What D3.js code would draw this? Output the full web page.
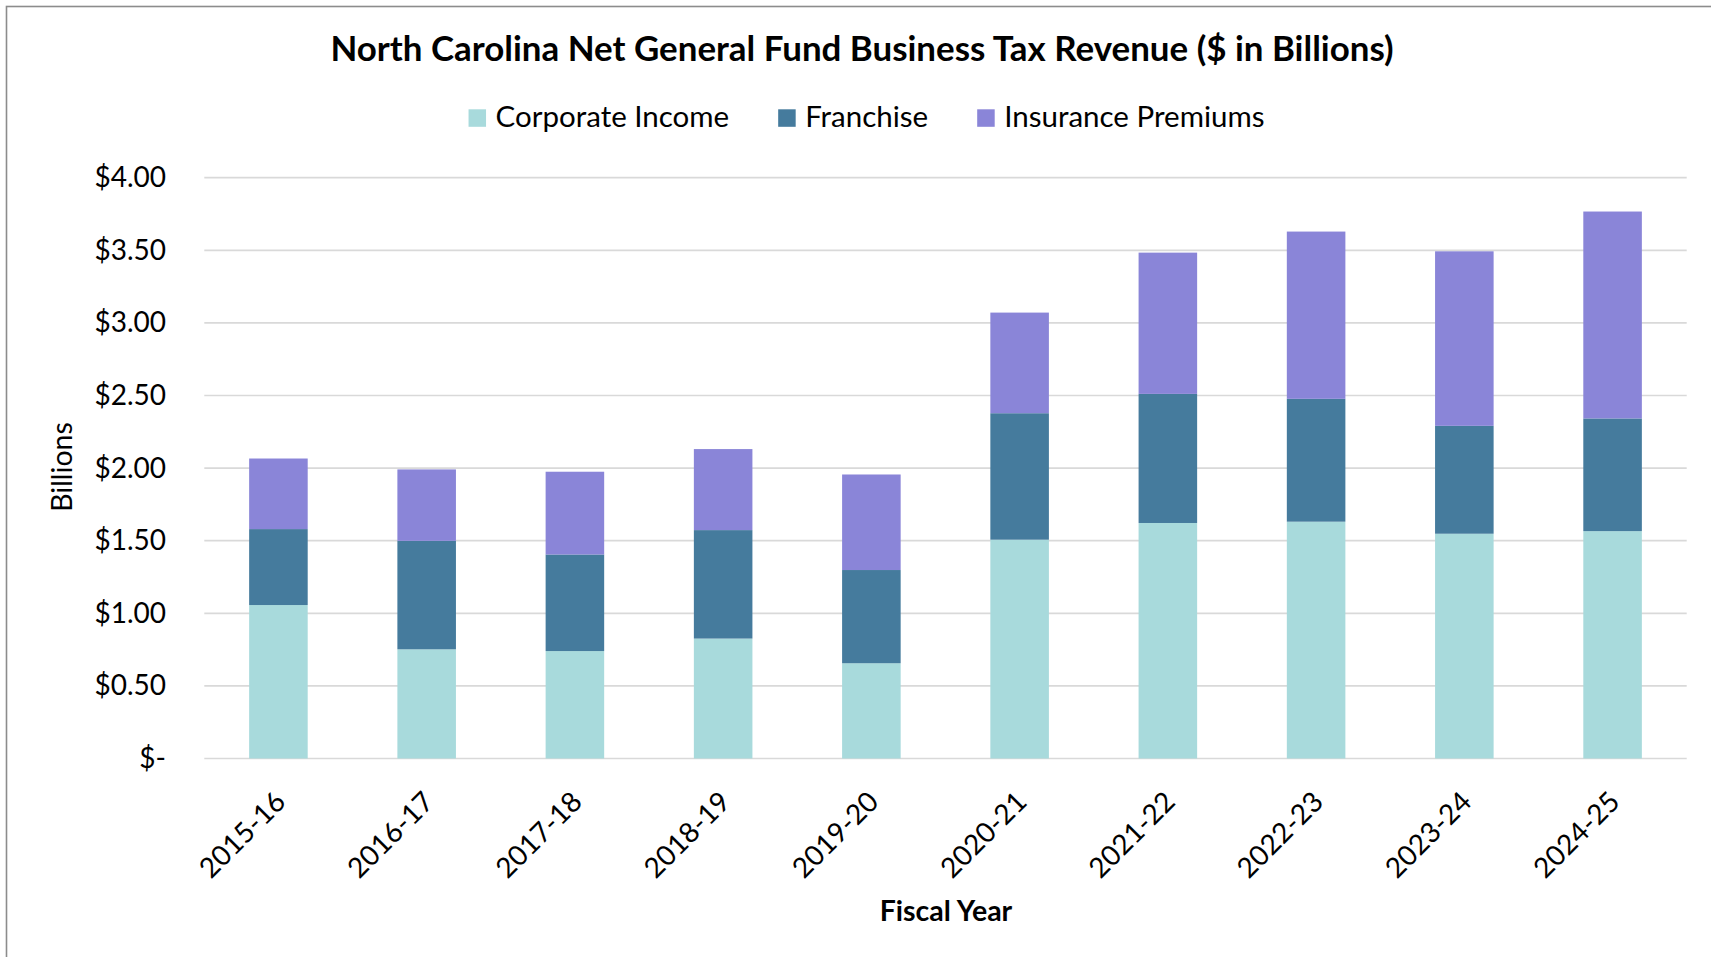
<!DOCTYPE html>
<html>
<head>
<meta charset="utf-8">
<script src="https://cdn.jsdelivr.net/npm/d3@7"></script>
<style>
  html, body { margin: 0; padding: 0; background: #fff; }
  svg { display: block; font-family: Lato, "Open Sans", sans-serif; }
</style>
</head>
<body>
<svg id="chart" width="1711" height="957"></svg>
<script>
// ---- Data (values in $ billions) ----
const categories = ["2015-16","2016-17","2017-18","2018-19","2019-20","2020-21","2021-22","2022-23","2023-24","2024-25"];
const seriesNames = ["Corporate Income","Franchise","Insurance Premiums"];
const corporateIncome   = [1.057, 0.752, 0.740, 0.826, 0.656, 1.507, 1.622, 1.631, 1.548, 1.566];
const franchise         = [0.523, 0.747, 0.665, 0.747, 0.642, 0.871, 0.889, 0.846, 0.743, 0.776];
const insurancePremiums = [0.486, 0.492, 0.570, 0.558, 0.658, 0.693, 0.973, 1.152, 1.202, 1.425];
const yTicks = [0, 0.5, 1, 1.5, 2, 2.5, 3, 3.5, 4];
const yTickLabels = ["$-","$0.50","$1.00","$1.50","$2.00","$2.50","$3.00","$3.50","$4.00"];
const colors = ["#A8DADC", "#457B9D", "#8A85D8"];
const titleText = "North Carolina Net General Fund Business Tax Revenue ($ in Billions)";
const xTitle = "Fiscal Year";
const yTitle = "Billions";

// ---- Layout ----
const W = 1711, H = 957;
const plot = { left: 204.3, right: 1686.7, top: 177.7, bottom: 758.5 };

const svg = d3.select("#chart");
svg.append("rect").attr("x", 0).attr("y", 0).attr("width", W).attr("height", H).attr("fill", "#fff");
// chart border (right/bottom cropped out of view)
svg.append("rect")
  .attr("x", 6.5).attr("y", 6.5).attr("width", W + 20).attr("height", H + 20)
  .attr("fill", "none").attr("stroke", "#8c8c8c").attr("stroke-width", 1.6);

const rows = categories.map((c, i) => ({
  year: c,
  "Corporate Income": corporateIncome[i],
  "Franchise": franchise[i],
  "Insurance Premiums": insurancePremiums[i]
}));
const stacked = d3.stack().keys(seriesNames)(rows);

const x = d3.scaleBand().domain(categories).range([plot.left, plot.right])
  .paddingInner(0.605).paddingOuter(0.3025);
const y = d3.scaleLinear().domain([0, 4]).range([plot.bottom, plot.top]);

// gridlines
svg.append("g").selectAll("line").data(yTicks).join("line")
  .attr("x1", plot.left).attr("x2", plot.right)
  .attr("y1", d => y(d)).attr("y2", d => y(d))
  .attr("stroke", "#d9d9d9").attr("stroke-width", 1.7);

// y axis labels
const yAxis = d3.axisLeft(y).tickValues(yTicks)
  .tickFormat((d, i) => yTickLabels[i]).tickSize(0).tickPadding(0);
const yg = svg.append("g").attr("transform", `translate(166,0)`).call(yAxis);
yg.select(".domain").remove();
yg.selectAll("text").attr("font-size", 28).attr("fill", "#000")
  .attr("font-family", "Lato, sans-serif");

// bars
svg.append("g").selectAll("g").data(stacked).join("g")
  .attr("fill", (d, i) => colors[i])
  .selectAll("rect").data(d => d).join("rect")
  .attr("x", d => x(d.data.year))
  .attr("width", x.bandwidth())
  .attr("y", d => y(d[1]))
  .attr("height", d => y(d[0]) - y(d[1]));

// x axis labels
const xAxis = d3.axisBottom(x).tickSize(0).tickPadding(0);
const xg = svg.append("g").attr("transform", `translate(0,${plot.bottom})`).call(xAxis);
xg.select(".domain").remove();
xg.selectAll("text")
  .attr("font-size", 28).attr("fill", "#000").attr("font-family", "Lato, sans-serif")
  .attr("text-anchor", "end")
  .attr("y", 0).attr("dy", "0.35em")
  .attr("transform", "translate(2,38) rotate(-45)");

// title
svg.append("text").attr("x", 862).attr("y", 60.5)
  .attr("text-anchor", "middle").attr("font-size", 34.9).attr("font-weight", 700)
  .attr("fill", "#000").text(titleText);

// axis titles
svg.append("text").attr("x", 946).attr("y", 921)
  .attr("text-anchor", "middle").attr("font-size", 28.5).attr("font-weight", 700)
  .attr("fill", "#000").text(xTitle);
svg.append("text").attr("transform", "translate(71.5,467) rotate(-90)")
  .attr("text-anchor", "middle").attr("font-size", 28.5)
  .attr("fill", "#000").text(yTitle);

// legend
const legend = svg.append("g");
const sq = 17.5, gapText = 9.5, gapItem = 49;
const items = legend.selectAll("g").data(seriesNames).join("g");
items.append("rect").attr("width", sq).attr("height", sq).attr("y", 109.3)
  .attr("fill", (d, i) => colors[i]);
items.append("text").attr("x", sq + gapText).attr("y", 126.5)
  .attr("font-size", 29.5).attr("fill", "#000").text(d => d);
const widths = [];
items.each(function() {
  const tw = d3.select(this).select("text").node().getComputedTextLength();
  widths.push(sq + gapText + tw);
});
const total = d3.sum(widths) + gapItem * (widths.length - 1);
let start = 866.5 - total / 2;
items.attr("transform", (d, i) => {
  const tx = start;
  start += widths[i] + gapItem;
  return `translate(${tx},0)`;
});
</script>
</body>
</html>
